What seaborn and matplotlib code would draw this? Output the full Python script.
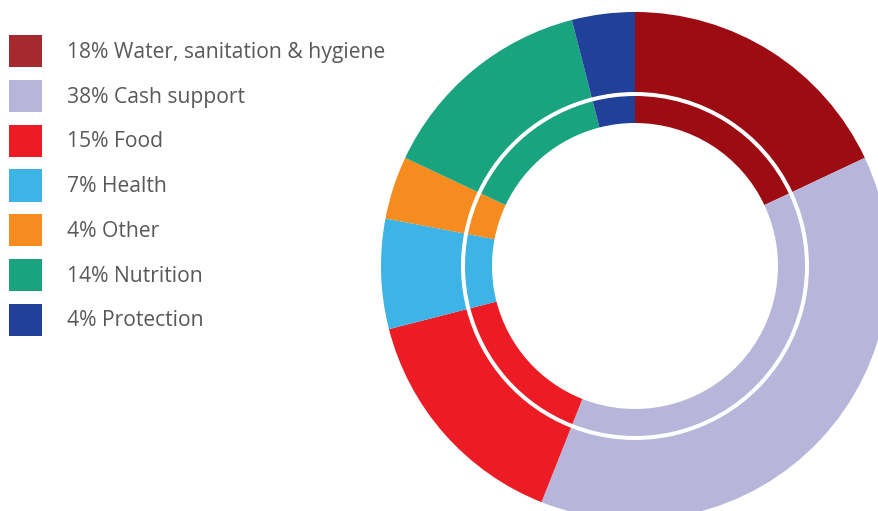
import matplotlib
matplotlib.use('Agg')
import matplotlib.pyplot as plt
import matplotlib.patches as mpatches
import seaborn as sns

categories = ['Water, sanitation & hygiene', 'Cash support', 'Food', 'Health',
              'Other', 'Nutrition', 'Protection']
shares = [18, 38, 15, 7, 4, 14, 4]
hex_colors = ['#9c0c12', '#b7b6da', '#ed1c24', '#3db4e5', '#f68b1f', '#19a47f', '#21409a']
legend_colors = ['#a52a30', '#b7b6da', '#ed1c24', '#3db4e5', '#f68b1f', '#19a47f', '#21409a']

sns.set_style('white')
plt.rcParams['font.family'] = ['Open Sans', 'DejaVu Sans']

W, H = 879, 511
fig = plt.figure(figsize=(W / 100, H / 100), dpi=100)
ax = fig.add_axes([0, 0, 1, 1])

palette = sns.color_palette(hex_colors)
cx, cy = 635, H - 266

# outer wide ring
ax.pie(shares, colors=palette, radius=254, center=(cx, cy), startangle=90,
       counterclock=False, wedgeprops={'width': 80, 'linewidth': 0})
# thin inner ring, separated by a white gap
ax.pie(shares, colors=palette, radius=170, center=(cx, cy), startangle=90,
       counterclock=False, wedgeprops={'width': 27, 'linewidth': 0})

ax.set_xlim(0, W)
ax.set_ylim(0, H)
ax.set_aspect('equal')
ax.axis('off')

fs = 15.2
handles = [mpatches.Patch(color=c, linewidth=0) for c in legend_colors]
labels = [f'{s}% {c}' for s, c in zip(shares, categories)]
fig.legend(handles, labels, loc='upper left', bbox_to_anchor=(9 / W, 1 - 35 / H),
           frameon=False, fontsize=fs, borderpad=0, borderaxespad=0,
           handlelength=1.56, handleheight=1.97, handletextpad=1.17,
           labelspacing=0.595, labelcolor='#58595b')

fig.savefig('out.png', dpi=100, facecolor='white')
